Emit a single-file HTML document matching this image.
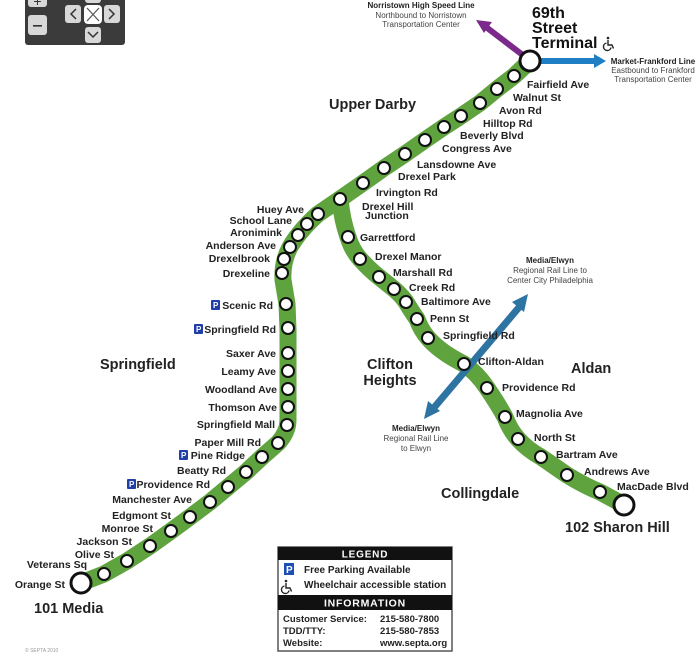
<!DOCTYPE html>
<html><head><meta charset="utf-8"><style>
html,body{margin:0;padding:0;background:#fff;}
svg{display:block;}
text{font-family:"Liberation Sans",sans-serif;}
.s{font-size:10.5px;font-weight:bold;fill:#222;}
.r{font-size:10.5px;font-weight:bold;fill:#222;text-anchor:end;}
.t{font-size:14.5px;font-weight:bold;fill:#222;}
.sm{font-size:8px;fill:#444;text-anchor:middle;}
.smb{font-size:8px;font-weight:bold;fill:#222;text-anchor:middle;}
</style></head><body>
<svg width="698" height="652" viewBox="0 0 698 652" xmlns="http://www.w3.org/2000/svg">
<defs>
<g id="wc" fill="none" stroke="#222" stroke-width="1.4">
<circle cx="2" cy="-9" r="1.3" fill="#222" stroke="none"/>
<path d="M2 -7 L2 -2 L6 -2 L7.5 1.5"/>
<path d="M0.5 -4 A3.8 3.8 0 1 0 5 0.5"/>
</g>
</defs>
<!-- nav control -->
<rect x="25" y="-6" width="100" height="51" rx="3" fill="#3b3b3b"/>
<rect x="28" y="-6" width="19" height="13" rx="3" fill="#d8d8d8"/>
<text x="37.5" y="6" font-size="14" text-anchor="middle" fill="#333">+</text>
<rect x="28" y="15" width="19" height="20" rx="3" fill="#d8d8d8"/>
<rect x="33" y="25" width="9" height="1.6" fill="#333"/>
<rect x="65" y="5" width="16" height="18" rx="3" fill="#d8d8d8"/>
<rect x="104" y="5" width="16" height="18" rx="3" fill="#d8d8d8"/>
<rect x="85" y="27" width="16" height="16" rx="3" fill="#d8d8d8"/>
<rect x="85" y="-6" width="16" height="9" rx="3" fill="#d8d8d8"/>
<rect x="84" y="5" width="18" height="19" rx="4" fill="#fff"/>
<path d="M87 8 L99 21 M99 8 L87 21" stroke="#555" stroke-width="1.2"/>
<path d="M76 9 L71 14 L76 19" stroke="#333" stroke-width="1.5" fill="none"/>
<path d="M109 9 L114 14 L109 19" stroke="#333" stroke-width="1.5" fill="none"/>
<path d="M88 32 L93 37 L98 32" stroke="#333" stroke-width="1.5" fill="none"/>

<!-- purple & blue arrows -->
<line x1="524" y1="56" x2="486" y2="27" stroke="#7b2a8c" stroke-width="6"/>
<polygon points="476,20 492,22 484,33" fill="#7b2a8c"/>
<line x1="536" y1="61" x2="596" y2="61" stroke="#1f7fc4" stroke-width="6"/>
<polygon points="606,61 594,54 594,68" fill="#1f7fc4"/>

<g fill="none" stroke-linecap="round" stroke-linejoin="round">
<path d="M530,61 L514,76 L497,89 L480,103 L461,116 L444,127 L425,140 L405,154 L384,168 L363,183 L340,199 L318,214 Q300,230 290,247 Q282,262 283,280 L287,304 L288,330 L288,420 Q288,432 278,443 L262,457 L246,472 L228,487 L210,502 L190,517 L171,531 L150,546 L127,561 L104,574 L81,583" stroke="#5fa33e" stroke-width="17"/>
<path d="M340,199 Q342,220 348,237 Q352,250 360,259 Q370,270 379,277 L394,289 Q402,296 406,302 Q412,312 417,319 Q421,330 428,338 Q440,352 464,364 Q478,374 487,388 Q498,404 505,417 Q510,430 518,439 Q528,450 541,457 L567,475 Q585,486 600,492 L624,505" stroke="#5fa33e" stroke-width="17"/>
</g>
<line x1="432" y1="410" x2="521" y2="305" stroke="#2e74a3" stroke-width="7"/>
<polygon points="528,294 524,312 512,302" fill="#2e74a3"/>
<polygon points="424,419 428,401 440,411" fill="#2e74a3"/>

<g fill="#fff" stroke="#111" stroke-width="2">
<circle cx="514" cy="76" r="6"/><circle cx="497" cy="89" r="6"/><circle cx="480" cy="103" r="6"/><circle cx="461" cy="116" r="6"/><circle cx="444" cy="127" r="6"/><circle cx="425" cy="140" r="6"/><circle cx="405" cy="154" r="6"/><circle cx="384" cy="168" r="6"/><circle cx="363" cy="183" r="6"/><circle cx="340" cy="199" r="6"/>
<circle cx="318" cy="214" r="6"/><circle cx="307" cy="224" r="6"/><circle cx="298" cy="235" r="6"/><circle cx="290" cy="247" r="6"/><circle cx="284" cy="259" r="6"/><circle cx="282" cy="273" r="6"/><circle cx="286" cy="304" r="6"/><circle cx="288" cy="328" r="6"/><circle cx="288" cy="353" r="6"/><circle cx="288" cy="371" r="6"/><circle cx="288" cy="389" r="6"/><circle cx="288" cy="407" r="6"/><circle cx="287" cy="425" r="6"/><circle cx="278" cy="443" r="6"/><circle cx="262" cy="457" r="6"/><circle cx="246" cy="472" r="6"/><circle cx="228" cy="487" r="6"/><circle cx="210" cy="502" r="6"/><circle cx="190" cy="517" r="6"/><circle cx="171" cy="531" r="6"/><circle cx="150" cy="546" r="6"/><circle cx="127" cy="561" r="6"/><circle cx="104" cy="574" r="6"/>
<circle cx="348" cy="237" r="6"/><circle cx="360" cy="259" r="6"/><circle cx="379" cy="277" r="6"/><circle cx="394" cy="289" r="6"/><circle cx="406" cy="302" r="6"/><circle cx="417" cy="319" r="6"/><circle cx="428" cy="338" r="6"/><circle cx="464" cy="364" r="6"/><circle cx="487" cy="388" r="6"/><circle cx="505" cy="417" r="6"/><circle cx="518" cy="439" r="6"/><circle cx="541" cy="457" r="6"/><circle cx="567" cy="475" r="6"/><circle cx="600" cy="492" r="6"/>
</g>
<g fill="#fff" stroke="#111" stroke-width="3">
<circle cx="530" cy="61" r="10"/><circle cx="81" cy="583" r="10"/><circle cx="624" cy="505" r="10"/>
</g>

<text class="smb" x="421" y="8">Norristown High Speed Line</text>
<text class="sm" x="421" y="18">Northbound to Norristown</text>
<text class="sm" x="421" y="27">Transportation Center</text>
<g font-size="16" font-weight="bold" fill="#111">
<text x="532" y="18">69th</text>
<text x="532" y="33">Street</text>
<text x="532" y="48">Terminal</text>
</g>
<use href="#wc" x="606" y="47"/>
<text class="smb" x="653" y="64">Market-Frankford Line</text>
<text class="sm" x="653" y="73">Eastbound to Frankford</text>
<text class="sm" x="653" y="82">Transportation Center</text>

<text class="t" x="329" y="109">Upper Darby</text>
<text class="s" x="527" y="88">Fairfield Ave</text>
<text class="s" x="513" y="101">Walnut St</text>
<text class="s" x="499" y="114">Avon Rd</text>
<text class="s" x="483" y="127">Hilltop Rd</text>
<text class="s" x="460" y="139">Beverly Blvd</text>
<text class="s" x="442" y="152">Congress Ave</text>
<text class="s" x="417" y="168">Lansdowne Ave</text>
<text class="s" x="398" y="180">Drexel Park</text>
<text class="s" x="376" y="196">Irvington Rd</text>
<text class="s" x="362" y="210">Drexel Hill</text>
<text class="s" x="365" y="219">Junction</text>
<text class="s" x="360" y="241">Garrettford</text>
<text class="s" x="375" y="260">Drexel Manor</text>
<text class="s" x="393" y="276">Marshall Rd</text>
<text class="s" x="409" y="291">Creek Rd</text>
<text class="s" x="421" y="305">Baltimore Ave</text>
<text class="s" x="430" y="322">Penn St</text>
<text class="s" x="443" y="339">Springfield Rd</text>
<text class="s" x="478" y="365">Clifton-Aldan</text>
<text class="s" x="502" y="391">Providence Rd</text>
<text class="s" x="516" y="417">Magnolia Ave</text>
<text class="s" x="534" y="441">North St</text>
<text class="s" x="556" y="458">Bartram Ave</text>
<text class="s" x="584" y="475">Andrews Ave</text>
<text class="s" x="617" y="490">MacDade Blvd</text>
<text class="t" x="565" y="532">102 Sharon Hill</text>
<text class="t" x="441" y="498">Collingdale</text>
<text class="t" x="571" y="373">Aldan</text>
<text class="t" x="390" y="369" text-anchor="middle">Clifton</text>
<text class="t" x="390" y="385" text-anchor="middle">Heights</text>
<text class="t" x="100" y="369">Springfield</text>
<text class="smb" x="550" y="263">Media/Elwyn</text>
<text class="sm" x="550" y="273">Regional Rail Line to</text>
<text class="sm" x="550" y="283">Center City Philadelphia</text>
<text class="smb" x="416" y="431">Media/Elwyn</text>
<text class="sm" x="416" y="441">Regional Rail Line</text>
<text class="sm" x="416" y="451">to Elwyn</text>

<text class="r" x="304" y="213">Huey Ave</text>
<text class="r" x="292" y="224">School Lane</text>
<text class="r" x="282" y="236">Aronimink</text>
<text class="r" x="276" y="249">Anderson Ave</text>
<text class="r" x="270" y="262">Drexelbrook</text>
<text class="r" x="270" y="277">Drexeline</text>
<text class="r" x="273" y="309">Scenic Rd</text>
<text class="r" x="276" y="333">Springfield Rd</text>
<text class="r" x="276" y="357">Saxer Ave</text>
<text class="r" x="276" y="375">Leamy Ave</text>
<text class="r" x="277" y="393">Woodland Ave</text>
<text class="r" x="277" y="411">Thomson Ave</text>
<text class="r" x="275" y="428">Springfield Mall</text>
<text class="r" x="261" y="446">Paper Mill Rd</text>
<text class="r" x="245" y="459">Pine Ridge</text>
<text class="r" x="226" y="474">Beatty Rd</text>
<text class="r" x="210" y="488">Providence Rd</text>
<text class="r" x="192" y="503">Manchester Ave</text>
<text class="r" x="171" y="519">Edgmont St</text>
<text class="r" x="153" y="532">Monroe St</text>
<text class="r" x="132" y="545">Jackson St</text>
<text class="r" x="114" y="558">Olive St</text>
<text class="r" x="87" y="568">Veterans Sq</text>
<text class="r" x="65" y="588">Orange St</text>
<text class="t" x="34" y="613">101 Media</text>
<g fill="#1f3ea8">
<rect x="211" y="300" width="9" height="10" rx="1"/><rect x="194" y="324" width="9" height="10" rx="1"/><rect x="179" y="450" width="9" height="10" rx="1"/><rect x="127" y="479" width="9" height="10" rx="1"/>
</g>
<g fill="#fff" font-size="8" font-weight="bold">
<text x="213" y="308">P</text><text x="196" y="332">P</text><text x="181" y="458">P</text><text x="129" y="487">P</text>
</g>
<text x="25" y="652" font-size="5" fill="#999">© SEPTA 2010</text>

<rect x="278" y="547" width="174" height="104" fill="#fff" stroke="#555" stroke-width="1.5"/>
<rect x="278" y="547" width="174" height="13" fill="#111"/>
<text x="365" y="557.5" font-size="10" font-weight="bold" fill="#fff" text-anchor="middle" letter-spacing="0.8">LEGEND</text>
<rect x="284" y="563" width="10" height="12" fill="#1f4fb5"/>
<text x="286" y="573" font-size="10" font-weight="bold" fill="#fff">P</text>
<text x="304" y="573" font-size="10" font-weight="bold" fill="#222">Free Parking Available</text>
<use href="#wc" x="284" y="590"/>
<text x="304" y="588" font-size="10" font-weight="bold" fill="#222">Wheelchair accessible station</text>
<rect x="278" y="595" width="174" height="15" fill="#111"/>
<text x="365" y="606.5" font-size="10.5" font-weight="bold" fill="#fff" text-anchor="middle" letter-spacing="0.8">INFORMATION</text>
<g font-size="9.5" font-weight="bold" fill="#222">
<text x="283" y="622">Customer Service:</text><text x="380" y="622">215-580-7800</text>
<text x="283" y="634">TDD/TTY:</text><text x="380" y="634">215-580-7853</text>
<text x="283" y="646">Website:</text><text x="380" y="646">www.septa.org</text>
</g>
</svg>
</body></html>
